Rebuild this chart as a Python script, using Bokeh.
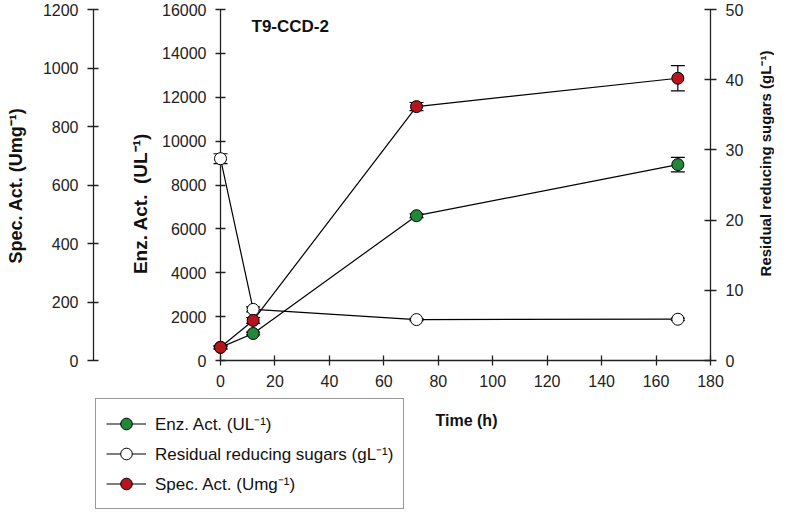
import math
from bokeh.plotting import figure
from bokeh.models import (Range1d, LinearAxis, FixedTicker, Label, Legend, LegendItem,
                          ColumnDataSource, Whisker, TeeHead)
from bokeh.embed import file_html
from bokeh.resources import INLINE

# ---------------- data ----------------
time_h = [0, 12, 72, 168]
enz_act = [600, 1230, 6600, 8930]
enz_err = [40, 60, 90, 330]
sugars = [28.75, 7.28, 5.83, 5.88]
sugars_err = [0.7, 0.35, 0.15, 0.15]
spec_act = [45, 137, 868, 965]
spec_err = [6, 10, 14, 43]

x_ticks = [0, 20, 40, 60, 80, 100, 120, 140, 160, 180]
enz_ticks = [0, 2000, 4000, 6000, 8000, 10000, 12000, 14000, 16000]
spec_ticks = [0, 200, 400, 600, 800, 1000, 1200]
sugar_ticks = [0, 10, 20, 30, 40, 50]

series_labels = ["Enz. Act. (UL\u207b\u00b9)",
                 "Residual reducing sugars (gL\u207b\u00b9)",
                 "Spec. Act. (Umg\u207b\u00b9)"]
title_text = "T9-CCD-2"
x_label = "Time (h)"
enz_label = "Enz. Act.\u00a0\u00a0(UL\u207b\u00b9)"
spec_label = "Spec. Act. (Umg\u207b\u00b9)"
sugar_label = "Residual reducing sugars (gL\u207b\u00b9)"

# ---------------- layout (pixels in the canvas) ----------------
W, H = 774, 510
PX_X0, PX_X1 = 220, 710      # where time 0 and 180 sit
PX_Y0, PX_YTOP = 360, 9      # where the value 0 and the axis top sit
PX_SPEC = 93                 # x position of the detached Spec. Act. axis

GREEN = "#23873a"
RED = "#b8141d"
WHITE = "#ffffff"
AX = "#222222"
TXT = "#111111"
FONT = "Liberation Sans"

t_lo, t_hi = x_ticks[0], x_ticks[-1]
kx = (PX_X1 - PX_X0) / (t_hi - t_lo)


def yrange(lo, hi):
    k = (PX_Y0 - PX_YTOP) / (hi - lo)
    return Range1d(lo - (H - PX_Y0) / k, hi + PX_YTOP / k)


src = ColumnDataSource(dict(
    t=time_h,
    enz=enz_act,
    enz_lo=[v - e for v, e in zip(enz_act, enz_err)],
    enz_hi=[v + e for v, e in zip(enz_act, enz_err)],
    sug=sugars,
    sug_lo=[v - e for v, e in zip(sugars, sugars_err)],
    sug_hi=[v + e for v, e in zip(sugars, sugars_err)],
    spec=spec_act,
    spec_lo=[v - e for v, e in zip(spec_act, spec_err)],
    spec_hi=[v + e for v, e in zip(spec_act, spec_err)],
))

p = figure(width=W, height=H, output_backend="svg", toolbar_location=None,
           x_range=Range1d(t_lo - PX_X0 / kx, t_hi + (W - PX_X1) / kx),
           y_range=yrange(enz_ticks[0], enz_ticks[-1]),
           min_border=0, outline_line_color=None,
           background_fill_color="white", border_fill_color="white")
p.xgrid.visible = False
p.ygrid.visible = False
p.extra_y_ranges = {"spec": yrange(spec_ticks[0], spec_ticks[-1]),
                    "sugar": yrange(sugar_ticks[0], sugar_ticks[-1])}


def style(ax, tick_out=5, tick_in=5):
    ax.axis_line_color = AX
    ax.axis_line_width = 1.3
    ax.major_tick_line_color = AX
    ax.major_tick_line_width = 1.3
    ax.major_tick_in = tick_in
    ax.major_tick_out = tick_out
    ax.minor_tick_line_color = None
    ax.minor_tick_in = 0
    ax.minor_tick_out = 0
    ax.major_label_text_font = FONT
    ax.major_label_text_font_size = "16px"
    ax.major_label_text_color = AX
    ax.major_label_standoff = 9
    ax.axis_label = None


# x axis
xax = p.xaxis[0]
xax.ticker = FixedTicker(ticks=x_ticks)
xax.bounds = (t_lo, t_hi)
xax.fixed_location = enz_ticks[0]
style(xax)

# main (enzyme) axis
yax = p.yaxis[0]
yax.ticker = FixedTicker(ticks=enz_ticks)
yax.bounds = (enz_ticks[0], enz_ticks[-1])
yax.fixed_location = t_lo
style(yax)

# specific activity axis (detached, outer left)
sax = LinearAxis(y_range_name="spec", ticker=FixedTicker(ticks=spec_ticks),
                 bounds=(spec_ticks[0], spec_ticks[-1]),
                 fixed_location=t_lo + (PX_SPEC - PX_X0) / kx)
style(sax, tick_out=6, tick_in=5)
p.add_layout(sax, "left")

# residual sugars axis (right)
rax = LinearAxis(y_range_name="sugar", ticker=FixedTicker(ticks=sugar_ticks),
                 bounds=(sugar_ticks[0], sugar_ticks[-1]), fixed_location=t_hi)
style(rax, tick_out=6, tick_in=6)
p.add_layout(rax, "right")


def label(text, x, y, size, angle=0.0, align="center"):
    p.add_layout(Label(x=x, y=H - y, x_units="screen", y_units="screen", text=text,
                       angle=angle, text_align=align, text_baseline="middle",
                       text_font=FONT, text_font_style="bold", text_font_size=size,
                       text_color=TXT))


label(spec_label, 15, 185, "18px", angle=math.pi / 2)
label(enz_label, 140, 203, "19px", angle=math.pi / 2)
label(sugar_label, 765, 163, "15px", angle=math.pi / 2)
label(x_label, 466, 420, "16px")
label(title_text, 251, 26, "17px", align="left")

# error bars
for lo, hi, rng in (("enz_lo", "enz_hi", "default"), ("sug_lo", "sug_hi", "sugar"),
                    ("spec_lo", "spec_hi", "spec")):
    w = Whisker(source=src, base="t", lower=lo, upper=hi, y_range_name=rng,
                line_color="black", line_width=1.2, level="annotation",
                upper_head=TeeHead(size=14, line_color="black", line_width=1.2),
                lower_head=TeeHead(size=14, line_color="black", line_width=1.2))
    p.add_layout(w)

# series
l1 = p.line("t", "enz", source=src, line_color="black", line_width=1.2, level="annotation")
l2 = p.line("t", "sug", source=src, y_range_name="sugar", line_color="black",
            line_width=1.2, level="annotation")
l3 = p.line("t", "spec", source=src, y_range_name="spec", line_color="black",
            line_width=1.2, level="annotation")
m1 = p.scatter("t", "enz", source=src, size=12, fill_color=GREEN, line_color="black",
               line_width=1, level="overlay")
m2 = p.scatter("t", "sug", source=src, y_range_name="sugar", size=12, fill_color=WHITE,
               line_color="black", line_width=1, level="overlay")
m3 = p.scatter("t", "spec", source=src, y_range_name="spec", size=12, fill_color=RED,
               line_color="black", line_width=1, level="overlay")

legend = Legend(items=[LegendItem(label=series_labels[0], renderers=[l1, m1]),
                       LegendItem(label=series_labels[1], renderers=[l2, m2]),
                       LegendItem(label=series_labels[2], renderers=[l3, m3])],
                location=(95, 1), margin=0, padding=10, spacing=1,
                glyph_width=40, glyph_height=29, label_standoff=9,
                label_text_font=FONT, label_text_font_size="17px",
                label_text_color=TXT,
                border_line_color="#333333", border_line_width=1.2,
                background_fill_color="white", background_fill_alpha=1)
p.add_layout(legend)

open("out.html", "w").write(file_html(p, INLINE))
